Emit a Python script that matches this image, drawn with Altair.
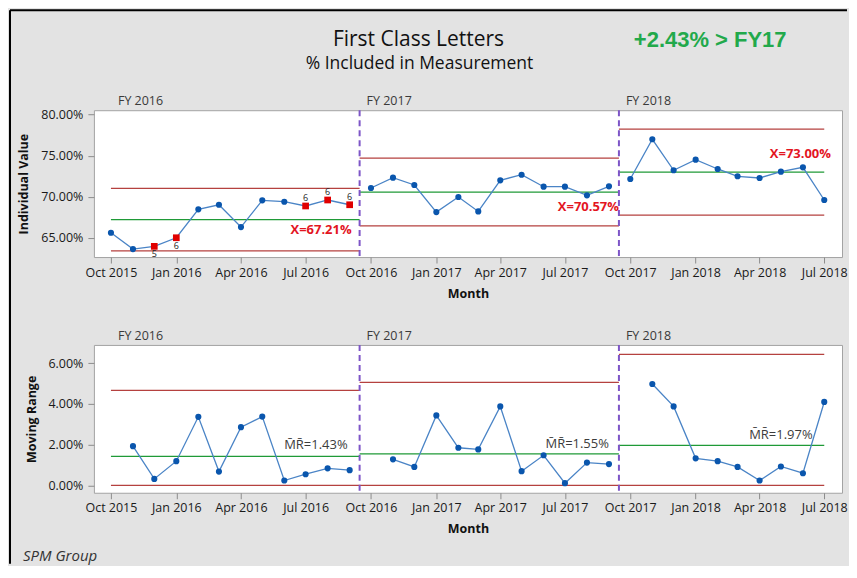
import altair as alt
import pandas as pd

# ---------------- data ----------------
months = [
    "2015-10-01", "2015-11-01", "2015-12-01", "2016-01-01", "2016-02-01", "2016-03-01",
    "2016-04-01", "2016-05-01", "2016-06-01", "2016-07-01", "2016-08-01", "2016-09-01",
    "2016-10-01", "2016-11-01", "2016-12-01", "2017-01-01", "2017-02-01", "2017-03-01",
    "2017-04-01", "2017-05-01", "2017-06-01", "2017-07-01", "2017-08-01", "2017-09-01",
    "2017-10-01", "2017-11-01", "2017-12-01", "2018-01-01", "2018-02-01", "2018-03-01",
    "2018-04-01", "2018-05-01", "2018-06-01", "2018-07-01",
]
fiscal_year = ["FY 2016"] * 12 + ["FY 2017"] * 12 + ["FY 2018"] * 10

individual = [
    65.61, 63.62, 63.95, 65.00, 68.46, 69.02, 66.30, 69.56, 69.39, 68.87, 69.60, 69.02,
    71.06, 72.32, 71.43, 68.13, 69.96, 68.21, 72.00, 72.68, 71.22, 71.22, 70.17, 71.26,
    72.16, 77.00, 73.22, 74.51, 73.38, 72.49, 72.28, 73.05, 73.58, 69.60,
]
moving_range = [
    None, 1.93, 0.32, 1.19, 3.37, 0.68, 2.86, 3.38, 0.24, 0.55, 0.84, 0.75,
    None, 1.28, 0.91, 3.44, 1.85, 1.77, 3.88, 0.70, 1.48, 0.11, 1.12, 1.05,
    None, 4.98, 3.88, 1.33, 1.19, 0.91, 0.24, 0.93, 0.60, 4.10,
]

flag_below = {"2015-12-01": "5", "2016-01-01": "6"}
flag_above = {"2016-07-01": "6", "2016-08-01": "6", "2016-09-01": "6"}

stage_names = ["FY 2016", "FY 2017", "FY 2018"]
stage_start = ["2015-10-01", "2016-09-15", "2017-09-15"]
stage_end = ["2016-09-15", "2017-09-15", "2018-07-01"]
i_mean = [67.21, 70.57, 73.00]
i_ucl = [71.01, 74.69, 78.24]
i_lcl = [63.41, 66.45, 67.76]
mr_mean = [1.43, 1.55, 1.97]
mr_ucl = [4.67, 5.06, 6.44]
mr_lcl = [0.0, 0.0, 0.0]
boundaries = ["2016-09-15", "2017-09-15"]

tick_dates = [
    "2015-10-01", "2016-01-01", "2016-04-01", "2016-07-01",
    "2016-10-01", "2017-01-01", "2017-04-01", "2017-07-01",
    "2017-10-01", "2018-01-01", "2018-04-01", "2018-07-01",
]
x_domain = ["2015-09-07", "2018-07-26"]
i_ticks = [65, 70, 75, 80]
i_domain = [62.65, 80.54]
mr_ticks = [0, 2, 4, 6]
mr_domain = [-0.36, 6.90]

title_text = "First Class Letters"
subtitle_text = "% Included in Measurement"
badge_text = "+2.43% > FY17"
footer_text = "SPM Group"

# ---------------- tables ----------------
def ms(s):
    return int(pd.Timestamp(s, tz="UTC").value // 10**6)

df = pd.DataFrame({"date": months, "stage": fiscal_year, "val": individual, "mr": moving_range})
flagged = set(flag_below) | set(flag_above)
df_ok = df[~df["date"].isin(flagged)]
df_flag = df[df["date"].isin(flagged)]
df_below = df[df["date"].isin(flag_below)].assign(test=lambda d: d["date"].map(flag_below))
df_above = df[df["date"].isin(flag_above)].assign(test=lambda d: d["date"].map(flag_above))
df_mr = df.dropna(subset=["mr"])

stg = pd.DataFrame({
    "stage": stage_names, "start": stage_start, "end": stage_end,
    "i_mean": i_mean, "i_ucl": i_ucl, "i_lcl": i_lcl,
    "mr_mean": mr_mean, "mr_ucl": mr_ucl, "mr_lcl": mr_lcl,
})
stg["i_label"] = [f"X={v:.2f}%" for v in i_mean]
stg["mr_label"] = ["M\u0304R\u0304=" + f"{v:.2f}%" for v in mr_mean]

i_limits = pd.concat([
    stg[["stage", "start", "end"]].assign(val=stg["i_ucl"]),
    stg[["stage", "start", "end"]].assign(val=stg["i_lcl"]),
])
mr_limits = pd.concat([
    stg[["stage", "start", "end"]].assign(val=stg["mr_ucl"]),
    stg[["stage", "start", "end"]].assign(val=stg["mr_lcl"]),
])
bdf = pd.DataFrame({"date": boundaries})

# ---------------- styling ----------------
W, H1, H2 = 749, 147, 148
FONT = "Open Sans"
BLUE_LINE = "#4a84c6"
BLUE_PT = "#0a56ad"
RED_LIM = "#b5413f"
GREEN = "#1f9a37"
PURPLE = "#7d55c7"
RED_TXT = "#e3151f"

xscale = alt.Scale(type="utc", domain=[ms(x_domain[0]), ms(x_domain[1])])


def xaxis(title_y):
    return alt.Axis(
        values=[ms(t) for t in tick_dates],
        labelExpr="utcFormat(datum.value, '%b %Y')",
        title="Month", titleX=W / 2, titleY=title_y, titleBaseline="middle",
        labelPadding=3,
    )


def X(field, title_y):
    return alt.X(f"{field}:T", scale=xscale, axis=xaxis(title_y))


def Y_top(field="val"):
    return alt.Y(
        f"{field}:Q",
        scale=alt.Scale(domain=i_domain, nice=False, zero=False),
        axis=alt.Axis(values=i_ticks, labelExpr="format(datum.value, '.2f') + '%'",
                      title="Individual Value", titleX=-70, titleY=H1 / 2,
                      titleBaseline="middle", labelPadding=5),
    )


def Y_bot(field="val"):
    return alt.Y(
        f"{field}:Q",
        scale=alt.Scale(domain=mr_domain, nice=False, zero=False),
        axis=alt.Axis(values=mr_ticks, labelExpr="format(datum.value, '.2f') + '%'",
                      title="Moving Range", titleX=-62, titleY=H2 / 2,
                      titleBaseline="middle", labelPadding=5),
    )


one = alt.Data(values=[{}])

# ---------------- top chart ----------------
# canvas extent (840 x 556), relative to the top plot origin
extent = alt.Chart(one).mark_rect(fill="#e3e3e3", fillOpacity=0).encode(
    x=alt.value(-85), x2=alt.value(755), y=alt.value(-101), y2=alt.value(455))
border_top = alt.Chart(one).mark_rule(color="black", strokeWidth=2).encode(
    x=alt.value(-84), x2=alt.value(754), y=alt.value(-100))
border_left = alt.Chart(one).mark_rule(color="black", strokeWidth=2).encode(
    x=alt.value(-84), y=alt.value(-100), y2=alt.value(454))

ty = 37
t_lim = alt.Chart(i_limits).mark_rule(color=RED_LIM, strokeWidth=1.3).encode(
    x=X("start", ty), x2="end:T", y=Y_top("val"))
t_mean = alt.Chart(stg).mark_rule(color=GREEN, strokeWidth=1.3).encode(
    x=X("start", ty), x2="end:T", y=Y_top("i_mean"))
t_div = alt.Chart(bdf).mark_rule(color=PURPLE, strokeWidth=2, strokeDash=[6, 4]).encode(
    x=X("date", ty))
t_line = alt.Chart(df).mark_line(color=BLUE_LINE, strokeWidth=1.3).encode(
    x=X("date", ty), y=Y_top("val"), detail="stage:N")
t_pts = alt.Chart(df_ok).mark_circle(color=BLUE_PT, opacity=1, size=38).encode(
    x=X("date", ty), y=Y_top("val"))
t_flag = alt.Chart(df_flag).mark_square(color="#e00000", opacity=1, size=45).encode(
    x=X("date", ty), y=Y_top("val"))
t_fb = alt.Chart(df_below).mark_text(fontSize=9, font=FONT, color="#222", dy=8).encode(
    x=X("date", ty), y=Y_top("val"), text="test:N")
t_fa = alt.Chart(df_above).mark_text(fontSize=9, font=FONT, color="#222", dy=-8).encode(
    x=X("date", ty), y=Y_top("val"), text="test:N")

mean_lbl_offsets = {"FY 2016": (-8, 10.5), "FY 2017": (0, 14.7), "FY 2018": (6.7, -17.8)}
t_mlabels = [
    alt.Chart(stg).transform_filter(alt.datum.stage == s).mark_text(
        align="right", baseline="middle", font=FONT, fontSize=13, fontWeight="bold",
        color=RED_TXT, dx=dx, dy=dy).encode(x=X("end", ty), y=Y_top("i_mean"), text="i_label:N")
    for s, (dx, dy) in mean_lbl_offsets.items()
]
t_fy = alt.Chart(stg).mark_text(align="left", baseline="middle", font=FONT, fontSize=12.5,
                                color="#3a3a3a", dx=7).encode(
    x=X("start", ty), y=alt.value(-9), text="stage:N")

t_title = alt.Chart(one).mark_text(font=FONT, fontSize=21, color="#111", align="center",
                                   baseline="alphabetic").encode(
    x=alt.value(325), y=alt.value(-64), text=alt.value(title_text))
t_sub = alt.Chart(one).mark_text(font=FONT, fontSize=17.5, color="#111", align="center",
                                 baseline="alphabetic").encode(
    x=alt.value(326), y=alt.value(-41), text=alt.value(subtitle_text))
t_badge = alt.Chart(one).mark_text(font="Liberation Sans", fontSize=22, fontWeight="bold",
                                   color="#22a94b", align="center", baseline="alphabetic").encode(
    x=alt.value(617), y=alt.value(-63), text=alt.value(badge_text))

top = alt.layer(
    extent, border_top, border_left, t_lim, t_mean, t_div, t_line, t_pts, t_flag,
    t_fb, t_fa, *t_mlabels, t_fy, t_title, t_sub, t_badge,
).properties(width=W, height=H1)

# ---------------- bottom chart ----------------
by = 35.6
b_lim = alt.Chart(mr_limits).mark_rule(color=RED_LIM, strokeWidth=1.3).encode(
    x=X("start", by), x2="end:T", y=Y_bot("val"))
b_mean = alt.Chart(stg).mark_rule(color=GREEN, strokeWidth=1.3).encode(
    x=X("start", by), x2="end:T", y=Y_bot("mr_mean"))
b_div = alt.Chart(bdf).mark_rule(color=PURPLE, strokeWidth=2, strokeDash=[6, 4]).encode(
    x=X("date", by))
b_line = alt.Chart(df_mr).mark_line(color=BLUE_LINE, strokeWidth=1.3).encode(
    x=X("date", by), y=Y_bot("mr"), detail="stage:N")
b_pts = alt.Chart(df_mr).mark_circle(color=BLUE_PT, opacity=1, size=38).encode(
    x=X("date", by), y=Y_bot("mr"))
mr_lbl_offsets = {"FY 2016": (-12, -11), "FY 2017": (-10, -10), "FY 2018": (-11.6, -10.7)}
b_mlabels = [
    alt.Chart(stg).transform_filter(alt.datum.stage == s).mark_text(
        align="right", baseline="middle", font=FONT, fontSize=13,
        color="#3c3c3c", dx=dx, dy=dy).encode(x=X("end", by), y=Y_bot("mr_mean"), text="mr_label:N")
    for s, (dx, dy) in mr_lbl_offsets.items()
]
b_fy = alt.Chart(stg).mark_text(align="left", baseline="middle", font=FONT, fontSize=12.5,
                                color="#3a3a3a", dx=7).encode(
    x=X("start", by), y=alt.value(-9.3), text="stage:N")
b_footer = alt.Chart(one).mark_text(font=FONT, fontSize=15, fontStyle="italic", color="#333",
                                    align="left", baseline="middle").encode(
    x=alt.value(-71), y=alt.value(211), text=alt.value(footer_text))

bottom = alt.layer(
    b_lim, b_mean, b_div, b_line, b_pts, *b_mlabels, b_fy, b_footer,
).properties(width=W, height=H2)

chart = alt.vconcat(top, bottom, spacing=88, bounds="flush").properties(
    padding=0, background="#e3e3e3"
).configure_view(
    stroke="#a3a3a3", strokeWidth=1, fill="white"
).configure_axis(
    labelFont=FONT, labelFontSize=12.5, labelColor="#1a1a1a",
    tickColor="#8c8c8c", tickSize=6, domain=False, grid=False,
    titleFont=FONT, titleFontSize=12.5, titleFontWeight="bold", titleColor="#111",
    zindex=1,
)

chart.save("out.html", embed_options={"renderer": "svg", "actions": False})
